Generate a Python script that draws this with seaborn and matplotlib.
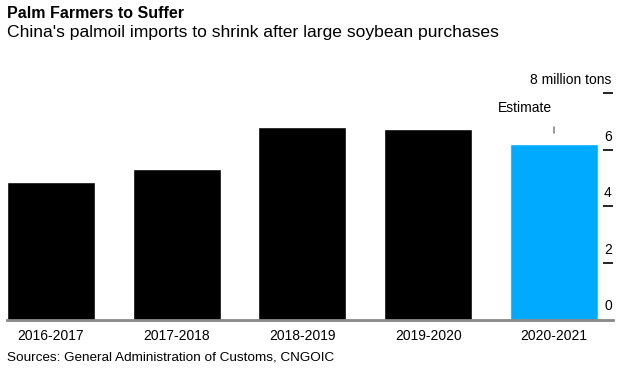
import matplotlib
matplotlib.use("Agg")
import matplotlib.pyplot as plt
import seaborn as sns
import pandas as pd
from matplotlib import font_manager

sns.set_theme(style="white")
plt.rcParams['font.family'] = ['Liberation Sans', 'DejaVu Sans']

seasons = ["2016-2017", "2017-2018", "2018-2019", "2019-2020", "2020-2021"]
imports = [4.87, 5.32, 6.81, 6.73, 6.2]
kind = ["Actual", "Actual", "Actual", "Actual", "Estimate"]
tick_values = [0, 2, 4, 6, 8]
tick_labels = ["0", "2", "4", "6", "8 million tons"]
title = "Palm Farmers to Suffer"
subtitle = "China's palmoil imports to shrink after large soybean purchases"
source = "Sources: General Administration of Customs, CNGOIC"

names = {f.name for f in font_manager.fontManager.ttflist}
title_family = ['Liberation Sans Narrow'] if 'Liberation Sans Narrow' in names else ['Liberation Sans']
title_size = 14 if 'Liberation Sans Narrow' in names else 11.5

df = pd.DataFrame({"season": seasons, "imports": imports, "kind": kind})

fig = plt.figure(figsize=(6.24, 3.76), dpi=100)
ax = fig.add_axes([7/624, (376-319.5)/376, 606/624, (319.5-93.3)/376])

sns.barplot(data=df, x="season", y="imports", hue="kind",
            palette={"Actual": "#000000", "Estimate": "#00aaff"},
            width=0.7, dodge=False, legend=False, ax=ax, saturation=1)

ax.set_xlim(-0.35, 4.47)
ax.set_ylim(0, 8)
for s in ["top", "left", "right"]:
    ax.spines[s].set_visible(False)
ax.spines["bottom"].set_color("#888888")
ax.spines["bottom"].set_linewidth(2)
ax.spines["bottom"].set_zorder(5)

ax.set_xlabel("")
ax.set_ylabel("")
ax.tick_params(axis="x", length=0, labelsize=10, pad=7, colors="black")

ax.yaxis.tick_right()
ax.set_yticks(tick_values[1:])
ax.tick_params(axis="y", direction="in", length=7, width=1.2, color="black",
               labelright=False, right=True)
for v, lab in zip(tick_values, tick_labels):
    ax.text(0.998, v + 0.22, lab, transform=ax.get_yaxis_transform(), ha="right",
            va="bottom", fontsize=10, color="black", clip_on=False)

# Estimate annotation
est_x = seasons.index("2020-2021")
ax.plot([est_x, est_x], [6.6, 6.8], color="#888888", lw=1.2, clip_on=False)
ax.text(est_x - 0.23, 7.25, "Estimate", ha="center", va="bottom",
        fontsize=10, color="black")

fig.text(7/624, 1 - 13/376, title, fontsize=title_size, fontweight="bold",
         family=title_family, va="center", ha="left", color="black")
fig.text(7/624, 1 - 33/376, subtitle, fontsize=12.6, va="center",
         ha="left", color="black")
fig.text(7/624, 1 - 358/376, source, fontsize=9.7, va="center",
         ha="left", color="black")

fig.savefig("out.png", dpi=100)
